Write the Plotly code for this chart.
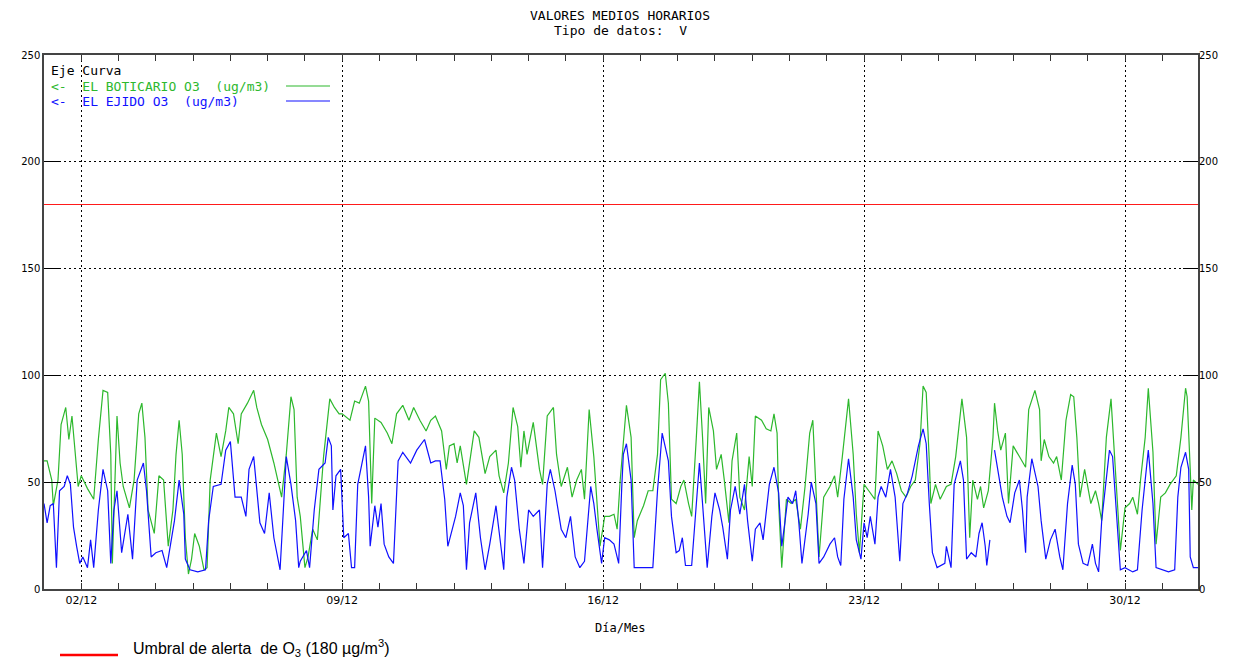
import pandas as pd
import plotly.graph_objects as go

# ---------------- data (hours from 1 Dec 00:00, values in ug/m3) ----------------
BOTICARIO_HOURS = [0, 2, 5, 6, 9, 11, 14, 16, 18, 20, 22, 24, 28, 32, 35, 38, 41, 43, 44, 47, 49, 51, 55, 58, 61, 63, 65, 67, 71, 74, 77, 80, 83, 85, 87, 89, 91, 93, 95, 97, 100, 103, 105, 107, 111, 114, 117, 119, 122, 125, 127, 131, 135, 137, 140, 144, 148, 153, 156, 159, 161, 163, 165, 168, 170, 173, 176, 180, 184, 187, 190,
                   192, 197, 200, 203, 207, 209, 211, 213, 217, 221, 224, 227, 231, 235, 238, 242, 246, 249, 252, 256, 259, 261, 264, 266, 268, 272, 277, 280, 284, 287, 291, 293, 296, 299, 302, 305, 307, 309, 311, 315, 319, 321, 324, 328, 330, 333, 337, 340, 343, 346, 348, 351, 354, 356, 358, 361, 364, 367, 369, 371,
                   375, 378, 380, 382, 386, 389, 392, 395, 397, 400, 402, 404, 407, 410, 412, 415, 417, 420, 422, 424, 426, 428, 431, 433, 436, 438, 441, 443, 446, 448, 451, 454, 456, 458, 462, 465, 468, 470, 472, 473, 475, 478, 481, 484, 487, 490, 493, 495, 497, 499, 502, 506, 509, 511, 514, 518, 521, 523, 525, 528, 531, 535, 537, 540, 543, 546, 549, 552, 555, 558, 561, 564,
                   566, 568, 570, 571, 574, 577, 581, 584, 587, 591, 594, 596, 598, 601, 603, 605, 608, 611, 612, 614, 616, 619, 621, 624, 628, 632, 634, 638, 641, 642, 644, 647, 650, 652, 655, 658, 661, 663, 665, 667, 670, 672, 674, 677, 679, 681, 684, 687, 689, 691, 693, 696, 699, 701, 704, 706, 709, 711, 714, 716, 719, 722, 725, 729, 732, 735, 736, 738, 739, 740, 743]
BOTICARIO_O3 = [60, 60, 51, 39, 51, 77, 85, 70, 81, 63, 48, 53, 47, 42, 70, 93, 92, 63, 12, 81, 59, 48, 38, 51, 82, 87, 71, 37, 26, 53, 51, 20, 37, 63, 79, 63, 24, 7, 14, 26, 20, 9, 10, 51, 73, 62, 74, 85, 82, 68, 82, 87, 93, 85, 77, 70, 59, 43, 63, 90, 84, 43, 34, 10, 15, 28, 23, 62, 89, 85, 82,
                82, 79, 88, 87, 95, 88, 40, 80, 78, 73, 68, 82, 86, 79, 85, 79, 74, 79, 81, 74, 56, 67, 68, 59, 67, 49, 74, 71, 54, 62, 65, 53, 45, 59, 85, 76, 57, 74, 63, 78, 56, 49, 81, 85, 63, 48, 57, 43, 51, 56, 42, 84, 62, 43, 20, 34, 34, 35, 28, 51,
                86, 71, 24, 32, 39, 46, 46, 63, 98, 101, 87, 42, 40, 48, 51, 40, 34, 71, 97, 71, 40, 85, 74, 56, 63, 51, 31, 60, 73, 43, 37, 62, 48, 81, 79, 75, 74, 82, 73, 40, 10, 42, 40, 42, 28, 48, 73, 79, 48, 15, 43, 48, 53, 43, 62, 89, 63, 35, 17, 49, 46, 42, 74, 67, 56, 60, 54, 46, 43, 48, 51, 68,
                95, 92, 60, 40, 49, 42, 48, 49, 62, 89, 71, 24, 51, 42, 48, 38, 46, 71, 87, 74, 65, 73, 40, 67, 62, 57, 84, 93, 84, 60, 70, 62, 59, 62, 51, 79, 91, 90, 71, 43, 56, 48, 40, 46, 40, 32, 71, 89, 64, 40, 18, 38, 40, 43, 35, 51, 71, 94, 64, 21, 43, 45, 49, 53, 71, 94, 90, 56, 37, 51, 49]

EJIDO_HOURS = [0, 2, 4, 6, 8, 10, 13, 15, 17, 19, 21, 23, 25, 28, 30, 32, 35, 38, 41, 43, 45, 47, 50, 54, 57, 60, 64, 66, 69, 72, 76, 79, 84, 87, 90, 91, 94, 99, 104, 106, 109, 114, 117, 120, 123, 127, 130, 132, 135, 139, 142, 145, 148, 152, 156, 159, 162, 164, 165, 169, 171, 174, 177, 181, 183, 185,
               186, 188, 191, 193, 196, 198, 200, 202, 207, 209, 210, 213, 215, 217, 219, 222, 225, 228, 231, 236, 240, 245, 249, 252, 255, 258, 260, 263, 265, 268, 270, 272, 274, 278, 281, 284, 287, 291, 294, 296, 298, 301, 303, 306, 309, 312, 315, 319, 321, 324, 326, 329, 333, 336, 339, 342, 345, 348, 352, 354, 356, 359, 361, 364, 367, 370,
               372, 373, 375, 378, 380, 386, 392, 395, 398, 402, 404, 407, 409, 411, 413, 417, 419, 422, 424, 427, 430, 432, 435, 437, 440, 442, 445, 448, 451, 453, 456, 458, 461, 463, 467, 470, 473, 475, 477, 479, 482, 484, 486, 488, 492, 494, 497, 499, 502, 506, 509, 511, 513, 515, 518, 521, 523, 526, 528, 530, 532, 535, 537, 539, 542, 545, 548, 551, 553, 556, 559, 563,
               566, 568, 570, 572, 575, 580, 581, 584, 586, 590, 592, 594, 597, 600, 602, 604, 606, 607, 609, 610, 612, 614, 617, 620, 622, 625, 628, 630, 632, 633, 636, 640, 642, 645, 648, 651, 654, 656, 659, 662, 664, 666, 669, 672, 675, 677, 679, 681, 686, 688, 691, 693, 696, 701, 704, 707, 711, 714, 716, 720, 724, 728, 730, 732, 735, 737, 738, 740, 743]
EJIDO_O3 = [40, 31, 39, 40, 10, 46, 48, 53, 49, 29, 20, 12, 15, 10, 23, 10, 37, 56, 46, 12, 37, 46, 17, 35, 14, 51, 59, 46, 15, 17, 18, 10, 32, 51, 35, 14, 9, 8, 9, 32, 48, 49, 65, 69, 43, 43, 34, 56, 62, 31, 26, 45, 24, 9, 62, 49, 32, 10, 13, 18, 10, 37, 56, 59, 71, 67,
            37, 53, 56, 24, 26, 10, 10, 49, 67, 43, 20, 39, 29, 40, 21, 15, 12, 60, 64, 59, 65, 70, 59, 60, 60, 42, 20, 28, 34, 45, 39, 9, 31, 45, 24, 9, 21, 39, 20, 9, 43, 57, 51, 28, 12, 37, 34, 37, 10, 49, 56, 46, 28, 24, 34, 15, 10, 13, 48, 40, 28, 12, 24, 23, 21, 12,
            48, 63, 68, 51, 10, 10, 10, 46, 73, 60, 34, 17, 18, 24, 11, 11, 32, 59, 40, 10, 34, 45, 37, 29, 14, 37, 48, 35, 49, 32, 13, 28, 31, 23, 49, 57, 45, 20, 31, 43, 40, 46, 31, 12, 35, 50, 40, 12, 15, 21, 24, 15, 11, 42, 61, 43, 23, 14, 31, 24, 34, 21, 43, 48, 43, 56, 43, 13, 40, 45, 53, 67,
            75, 68, 40, 17, 10, 12, 20, 10, 49, 60, 51, 14, 17, 15, 26, 31, 20, 11, 23, None, 65, 56, 43, 34, 31, 45, 51, 37, 17, 43, 61, 48, 32, 14, 23, 28, 15, 9, 40, 58, 49, 21, 12, 11, 21, 12, 8, 32, 65, 62, 28, 9, 10, 8, 9, 37, 65, 40, 10, 9, 8, 9, 43, 57, 64, 56, 15, 10, 10]

ALERT_THRESHOLD = 180
Y_TICKS = [0, 50, 100, 150, 200, 250]
START = "2009-12-01 00:00"
END = "2009-12-31 23:00"

base = pd.Timestamp(START)
x_bot = [base + pd.Timedelta(hours=h) for h in BOTICARIO_HOURS]
x_eji = [base + pd.Timedelta(hours=h) for h in EJIDO_HOURS]

GREEN = "#2db82d"
BLUE = "#1010ff"
RED = "#ff1a1a"
MONO = "DejaVu Sans Mono"

fig = go.Figure()
fig.add_trace(go.Scatter(x=x_bot, y=BOTICARIO_O3, mode="lines",
                         line=dict(color=GREEN, width=1.2), showlegend=False))
fig.add_trace(go.Scatter(x=x_eji, y=EJIDO_O3, mode="lines",
                         line=dict(color=BLUE, width=1.2), showlegend=False,
                         connectgaps=False))
# invisible trace for the right axis
fig.add_trace(go.Scatter(x=[x_bot[0]], y=[0], yaxis="y2", mode="lines",
                         line=dict(width=0), showlegend=False, hoverinfo="skip"))

# alert threshold line
fig.add_shape(type="line", xref="paper", x0=0, x1=1, yref="y",
              y0=ALERT_THRESHOLD, y1=ALERT_THRESHOLD,
              line=dict(color=RED, width=1.2))


def px_x(p):
    return (p - 44) / 1154.0


def px_y(p):
    return (589 - p) / 534.0


# legend inside plot
fig.add_annotation(text="Eje Curva", x=px_x(49), y=px_y(71), xref="paper", yref="paper",
                   xanchor="left", yanchor="middle", showarrow=False,
                   font=dict(family=MONO, size=13, color="black"))
fig.add_annotation(text="<-  EL BOTICARIO O3  (ug/m3)", x=px_x(49), y=px_y(86), xref="paper",
                   yref="paper", xanchor="left", yanchor="middle", showarrow=False,
                   font=dict(family=MONO, size=13, color=GREEN))
fig.add_annotation(text="<-  EL EJIDO O3  (ug/m3)", x=px_x(49), y=px_y(101), xref="paper",
                   yref="paper", xanchor="left", yanchor="middle", showarrow=False,
                   font=dict(family=MONO, size=13, color=BLUE))
fig.add_shape(type="line", xref="paper", yref="paper", x0=px_x(286), x1=px_x(330),
              y0=px_y(86), y1=px_y(86), line=dict(color=GREEN, width=1.2))
fig.add_shape(type="line", xref="paper", yref="paper", x0=px_x(286), x1=px_x(330),
              y0=px_y(101), y1=px_y(101), line=dict(color=BLUE, width=1.2))

# titles
fig.add_annotation(text="VALORES MEDIOS HORARIOS", x=px_x(620), y=px_y(16), xref="paper",
                   yref="paper", xanchor="center", yanchor="middle", showarrow=False,
                   font=dict(family=MONO, size=13, color="black"))
fig.add_annotation(text="Tipo de datos:  V", x=px_x(620), y=px_y(31), xref="paper",
                   yref="paper", xanchor="center", yanchor="middle", showarrow=False,
                   font=dict(family=MONO, size=13, color="black"))
fig.add_annotation(text="Día/Mes", x=px_x(620), y=px_y(628), xref="paper",
                   yref="paper", xanchor="center", yanchor="middle", showarrow=False,
                   font=dict(family=MONO, size=12, color="black"))

# bottom alert legend
fig.add_shape(type="line", xref="paper", yref="paper", x0=px_x(60), x1=px_x(118),
              y0=px_y(655), y1=px_y(655), line=dict(color="#ff0000", width=2.5))
fig.add_annotation(text="Umbral de alerta  de O<sub>3</sub> (180 µg/m<sup>3</sup>)",
                   x=px_x(131), y=px_y(648), xref="paper", yref="paper",
                   xanchor="left", yanchor="middle", showarrow=False,
                   font=dict(family="Liberation Sans", size=16, color="black"))

fig.update_layout(
    width=1242, height=659,
    margin=dict(l=44, r=44, t=55, b=70, pad=0),
    paper_bgcolor="white", plot_bgcolor="white",
    showlegend=False,
    xaxis=dict(
        type="date", range=[START, END],
        tick0="2009-12-02", dtick=7 * 86400000, tickformat="%d/%m",
        ticks="inside", ticklen=6, tickcolor="#333",
        showgrid=True, gridcolor="black", griddash="2px,3px", gridwidth=1,
        showline=True, linecolor="#444", linewidth=1.5, mirror="allticks",
        tickfont=dict(family="DejaVu Sans", size=11, color="black"),
        minor=dict(dtick=86400000, tick0="2009-12-01", ticks="inside", ticklen=4,
                   tickcolor="#333", showgrid=False),
        zeroline=False,
    ),
    yaxis=dict(
        range=[0, 250], tickvals=Y_TICKS, ticks="inside", ticklen=15, tickcolor="black",
        showgrid=True, gridcolor="black", griddash="2px,3px", gridwidth=1,
        showline=True, linecolor="#444", linewidth=1.5, mirror=True,
        tickfont=dict(family="DejaVu Sans", size=10, color="black"),
        zeroline=False,
    ),
    yaxis2=dict(
        range=[0, 250], tickvals=Y_TICKS, overlaying="y", side="right", matches="y",
        ticks="inside", ticklen=15, tickcolor="black", showgrid=False,
        showline=False, zeroline=False,
        tickfont=dict(family="DejaVu Sans", size=10, color="black"),
    ),
)

fig.write_html("out.html", config={"displayModeBar": False},
               post_script="document.body.style.margin='0';document.body.style.overflow='hidden';")
